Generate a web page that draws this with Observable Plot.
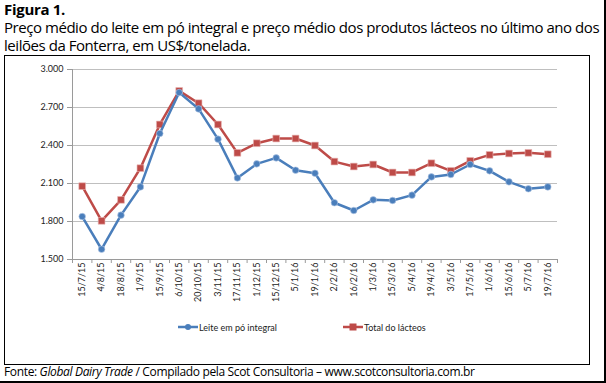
<!DOCTYPE html>
<html>
<head>
<meta charset="utf-8">
<script src="https://cdn.jsdelivr.net/npm/d3@7"></script>
<script src="https://cdn.jsdelivr.net/npm/@observablehq/plot@0.6"></script>
<style>
  html, body { margin: 0; padding: 0; background: #fff; }
  body { width: 606px; height: 383px; position: relative; overflow: hidden; font-family: "Open Sans", sans-serif; color: #000; }
  #title { position: absolute; left: 4px; top: 1px; font-size: 15px; line-height: 17px; font-weight: bold; letter-spacing: -0.3px; }
  #sub { position: absolute; left: 4px; top: 18px; font-size: 15px; line-height: 18px; letter-spacing: -0.45px; white-space: nowrap; }
  #box { position: absolute; left: 4px; top: 55px; width: 586px; height: 310px; border: 1.5px solid #000; box-sizing: border-box; }
  #outer { position: absolute; left: -3px; top: -3px; width: 609px; height: 386px; border-right: 2px solid #000; border-bottom: 2px solid #000; box-sizing: border-box; }
  #chart { position: absolute; left: 0; top: 55px; }
  #legend { position: absolute; top: 321px; left: 0; font-family: Lato, sans-serif; font-size: 9px; color: #222; }
  .item { position: absolute; white-space: nowrap; display: flex; align-items: center; }
  #footer { position: absolute; left: 4px; top: 364px; font-size: 12px; line-height: 16px; letter-spacing: -0.35px; white-space: nowrap; }
</style>
</head>
<body>
<div id="outer"></div>
<div id="title">Figura 1.</div>
<div id="sub">Preço médio do leite em pó integral e preço médio dos produtos lácteos no último ano dos<br>leilões da Fonterra, em US$/tonelada.</div>
<div id="box"></div>
<div id="chart"></div>
<div id="legend"></div>
<div id="footer">Fonte: <i>Global Dairy Trade</i> / Compilado pela Scot Consultoria – www.scotconsultoria.com.br</div>
<script>
const dates = ["15/7/15","4/8/15","18/8/15","1/9/15","15/9/15","6/10/15","20/10/15","3/11/15","17/11/15","1/12/15","15/12/15","5/1/16","19/1/16","2/2/16","16/2/16","1/3/16","15/3/16","5/4/16","19/4/16","3/5/16","17/5/16","1/6/16","15/6/16","5/7/16","19/7/16"];
const leite = [1839,1581,1850,2073,2495,2818,2689,2450,2144,2255,2302,2205,2181,1948,1887,1971,1966,2008,2152,2171,2250,2200,2113,2058,2073];
const total = [2079,1805,1971,2221,2566,2831,2734,2566,2342,2418,2455,2455,2400,2273,2234,2250,2187,2187,2260,2200,2279,2326,2337,2342,2331];
const yTicks = [1500,1800,2100,2400,2700,3000];
const seriesNames = ["Leite em pó integral","Total do lácteos"];
const colors = ["#4a7ebb","#be4b48"];

const idx = dates.map((d,i)=>i);
const dataL = idx.map(i=>({i, v: leite[i]}));
const dataT = idx.map(i=>({i, v: total[i]}));
const fmt = d => d3.format(",")(d).replace(/,/g, ".");
const axisGray = "#9a9a9a";

const chart = Plot.plot({
  width: 606,
  height: 255,
  marginLeft: 72,
  marginRight: 49,
  marginTop: 14,
  marginBottom: 51,
  style: { fontFamily: "Lato, sans-serif", fontSize: "9px", color: "#222", background: "transparent" },
  x: { type: "linear", domain: [-0.5, dates.length - 0.5] },
  y: { domain: [1500, 3000] },
  marks: [
    Plot.gridY(yTicks, { stroke: "#bfbfbf", strokeOpacity: 1, strokeWidth: 1.2 }),
    Plot.ruleX([-0.5], { stroke: axisGray }),
    Plot.ruleY([1500], { stroke: axisGray }),
    Plot.axisY(yTicks, { tickFormat: fmt, tickSize: 5, tickPadding: 4, stroke: axisGray, label: null }),
    Plot.axisX(d3.range(dates.length + 1).map(i => i - 0.5), { tickFormat: () => "", tickSize: 4, stroke: axisGray, label: null }),
    Plot.axisX(idx, { tickFormat: i => dates[i], tickSize: 0, tickPadding: 3, tickRotate: -90, label: null }),
    Plot.line(dataT, { x: "i", y: "v", stroke: colors[1], strokeWidth: 2.5 }),
    Plot.dot(dataT, { x: "i", y: "v", symbol: "square", r: 3.8, fill: colors[1], stroke: "#e8b5b4", strokeWidth: 0.6 }),
    Plot.line(dataL, { x: "i", y: "v", stroke: colors[0], strokeWidth: 2.5 }),
    Plot.dot(dataL, { x: "i", y: "v", symbol: "circle", r: 3.3, fill: colors[0], stroke: "#b5c9e6", strokeWidth: 0.6 })
  ]
});
document.getElementById("chart").appendChild(chart);

const legend = document.getElementById("legend");
const lx = [178, 343];
seriesNames.forEach((name, k) => {
  const it = document.createElement("div");
  it.className = "item";
  it.style.left = lx[k] + "px";
  it.style.top = "0px";
  const sym = k === 0
    ? `<circle cx="10" cy="6" r="3" fill="${colors[0]}"/>`
    : `<rect x="6.5" y="2.5" width="7" height="7" fill="${colors[1]}"/>`;
  it.innerHTML = `<svg width="20" height="12"><line x1="0" x2="20" y1="6" y2="6" stroke="${colors[k]}" stroke-width="2.5"/>${sym}</svg><span style="margin-left:1px">${name}</span>`;
  legend.appendChild(it);
});
</script>
</body>
</html>
